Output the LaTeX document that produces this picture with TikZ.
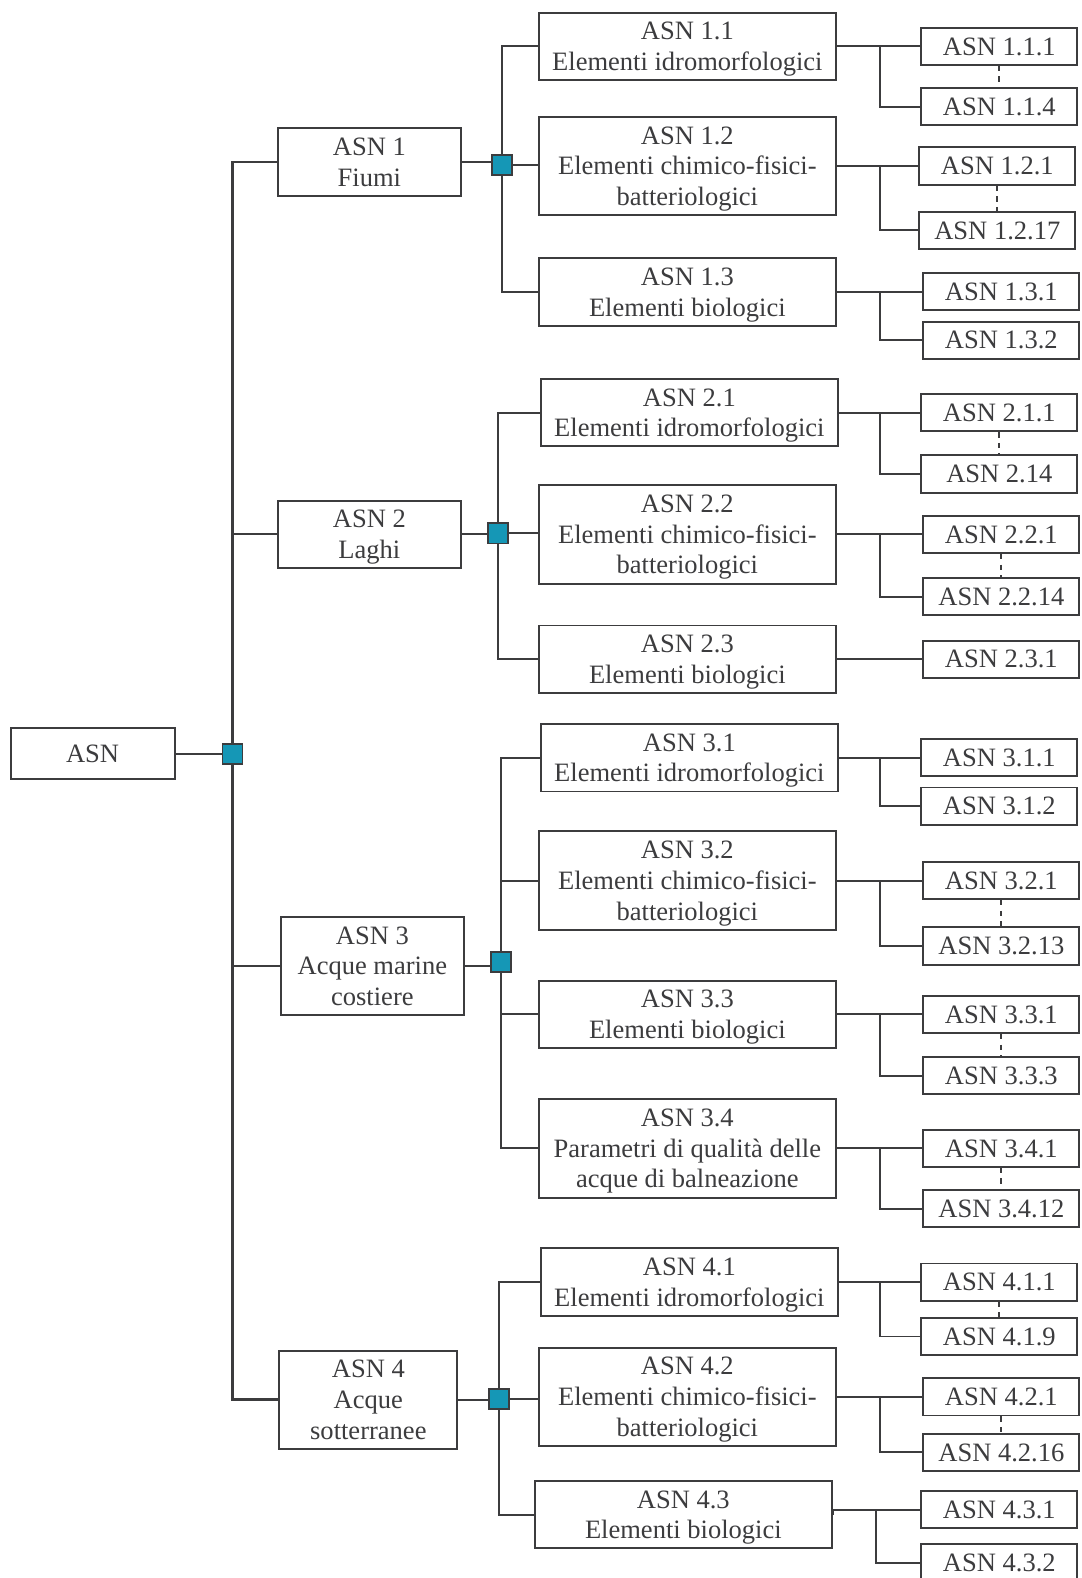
\documentclass[tikz,border=0pt]{standalone}
\usepackage{fontspec}
\setmainfont{Liberation Serif}
\definecolor{ink}{HTML}{3C3C3E}
\definecolor{hubfill}{HTML}{1597B6}

\begin{document}
\begin{tikzpicture}[x=0.02cm, y=-0.02cm,
    box/.style={draw=ink, line width=1.1pt, fill=white, text=ink,
                align=center, inner sep=0pt, text depth=0pt,
                font=\fontsize{15}{17.4}\selectfont},
    rootbox/.style={box, minimum width=3.26cm, minimum height=1.02cm},
    grp/.style={box, minimum width=3.64cm, minimum height=1.34cm},
    sub/.style={box, minimum width=5.9cm, minimum height=1.34cm},
    leaf/.style={box, minimum width=3.1cm, minimum height=0.74cm},
    hub/.style={draw=ink, line width=1pt, fill=hubfill, minimum size=0.4cm,
                inner sep=0pt},
    link/.style={draw=ink, line width=1.1pt},
    gap/.style={draw=ink, line width=1pt, dash pattern=on 3pt off 3pt},
]
    \useasboundingbox (0,0) rectangle (1075,1568);

    % root and first level
    \node[rootbox] (asn) at (92,749) {ASN};
    \node[grp] (asn1) at (367,161) {ASN 1\\Fiumi};
    \node[grp] (asn2) at (367,531) {ASN 2\\Laghi};
    \node[grp,minimum height=1.96cm] (asn3) at (370,960) {ASN 3\\Acque marine\\costiere};
    \node[grp,minimum height=1.96cm,minimum width=3.54cm] (asn4) at (366,1391) {ASN 4\\Acque\\sotterranee};

    % second level
    \node[sub] (a11) at (683,46) {ASN 1.1\\Elementi idromorfologici};
    \node[sub,minimum height=1.96cm] (a12) at (683,165) {ASN 1.2\\Elementi chimico-fisici-\\batteriologici};
    \node[sub] (a13) at (683,290) {ASN 1.3\\Elementi biologici};
    \node[sub] (a21) at (685,410) {ASN 2.1\\Elementi idromorfologici};
    \node[sub,minimum height=1.96cm] (a22) at (683,531) {ASN 2.2\\Elementi chimico-fisici-\\batteriologici};
    \node[sub] (a23) at (683,655) {ASN 2.3\\Elementi biologici};
    \node[sub] (a31) at (685,753) {ASN 3.1\\Elementi idromorfologici};
    \node[sub,minimum height=1.96cm] (a32) at (683,875) {ASN 3.2\\Elementi chimico-fisici-\\batteriologici};
    \node[sub] (a33) at (683,1008) {ASN 3.3\\Elementi biologici};
    \node[sub,minimum height=1.96cm] (a34) at (683,1141) {ASN 3.4\\Parametri di qualità delle\\acque di balneazione};
    \node[sub] (a41) at (685,1274) {ASN 4.1\\Elementi idromorfologici};
    \node[sub,minimum height=1.96cm] (a42) at (683,1388) {ASN 4.2\\Elementi chimico-fisici-\\batteriologici};
    \node[sub] (a43) at (679,1505) {ASN 4.3\\Elementi biologici};

    % leaves
    \node[leaf] (l111) at (993,46) {ASN 1.1.1};
    \node[leaf] (l114) at (993,106) {ASN 1.1.4};
    \node[leaf] (l121) at (991,165) {ASN 1.2.1};
    \node[leaf] (l1217) at (991,229) {ASN 1.2.17};
    \node[leaf] (l131) at (995,290) {ASN 1.3.1};
    \node[leaf] (l132) at (995,338) {ASN 1.3.2};
    \node[leaf] (l211) at (993,410) {ASN 2.1.1};
    \node[leaf] (l214) at (993,471) {ASN 2.14};
    \node[leaf] (l221) at (995,531) {ASN 2.2.1};
    \node[leaf] (l2214) at (995,593) {ASN 2.2.14};
    \node[leaf] (l231) at (995,655) {ASN 2.3.1};
    \node[leaf] (l311) at (993,753) {ASN 3.1.1};
    \node[leaf] (l312) at (993,801) {ASN 3.1.2};
    \node[leaf] (l321) at (995,875) {ASN 3.2.1};
    \node[leaf] (l3213) at (995,940) {ASN 3.2.13};
    \node[leaf] (l331) at (995,1008) {ASN 3.3.1};
    \node[leaf] (l333) at (995,1069) {ASN 3.3.3};
    \node[leaf] (l341) at (995,1141) {ASN 3.4.1};
    \node[leaf] (l3412) at (995,1201) {ASN 3.4.12};
    \node[leaf] (l411) at (993,1274) {ASN 4.1.1};
    \node[leaf] (l419) at (993,1328) {ASN 4.1.9};
    \node[leaf] (l421) at (995,1388) {ASN 4.2.1};
    \node[leaf] (l4216) at (995,1443) {ASN 4.2.16};
    \node[leaf] (l431) at (993,1500) {ASN 4.3.1};
    \node[leaf] (l432) at (993,1553) {ASN 4.3.2};

    % hub points
    \coordinate (j0) at (231,749);
    \coordinate (j1) at (499,164);
    \coordinate (j2) at (495,530);
    \coordinate (j3) at (498,956);
    \coordinate (j4) at (496,1390);

    % elbows towards the leaves
    \coordinate (k11) at (874,46);
    \coordinate (k12) at (874,165);
    \coordinate (k13) at (874,290);
    \coordinate (k21) at (874,410);
    \coordinate (k22) at (874,531);
    \coordinate (k31) at (874,753);
    \coordinate (k32) at (874,875);
    \coordinate (k33) at (874,1008);
    \coordinate (k34) at (874,1141);
    \coordinate (k41) at (874,1274);
    \coordinate (k42) at (874,1388);
    \coordinate (k43) at (870,1500);

    % root to first level
    \draw[link] (asn.east) -- (j0);
    \draw[link, line width=1.6pt] (j0) |- (asn1.west);
    \draw[link, line width=1.6pt] (j0) |- (asn4.west);
    \draw[link] (j0 |- asn2.west) -- (asn2.west);
    \draw[link] (j0 |- asn3.west) -- (asn3.west);

    % first level to second level
    \draw[link] (asn1.east) -- (asn1.east -| j1);
    \draw[link] (j1) |- (a11.west);
    \draw[link] (j1) |- (a13.west);
    \draw[link] (j1) -- (j1 -| a12.west);
    \draw[link] (asn2.east) -- (asn2.east -| j2);
    \draw[link] (j2) |- (a21.west);
    \draw[link] (j2) |- (a23.west);
    \draw[link] (j2) -- (j2 -| a22.west);
    \draw[link] (asn3.east) -- (asn3.east -| j3);
    \draw[link] (j3) |- (a31.west);
    \draw[link] (j3) |- (a34.west);
    \draw[link] (j3 |- a32.west) -- (a32.west);
    \draw[link] (j3 |- a33.west) -- (a33.west);
    \draw[link] (asn4.east) -- (asn4.east -| j4);
    \draw[link] (j4) |- (a41.west);
    \draw[link] (j4) |- (a43.west);
    \draw[link] (j4) -- (j4 -| a42.west);

    % second level to leaves
    \draw[link] (a11.east) -- (l111.west);
    \draw[link] (k11) |- (l114.west);
    \draw[link] (a12.east) -- (l121.west);
    \draw[link] (k12) |- (l1217.west);
    \draw[link] (a13.east) -- (l131.west);
    \draw[link] (k13) |- (l132.west);
    \draw[link] (a21.east) -- (l211.west);
    \draw[link] (k21) |- (l214.west);
    \draw[link] (a22.east) -- (l221.west);
    \draw[link] (k22) |- (l2214.west);
    \draw[link] (a23.east) -- (l231.west);
    \draw[link] (a31.east) -- (l311.west);
    \draw[link] (k31) |- (l312.west);
    \draw[link] (a32.east) -- (l321.west);
    \draw[link] (k32) |- (l3213.west);
    \draw[link] (a33.east) -- (l331.west);
    \draw[link] (k33) |- (l333.west);
    \draw[link] (a34.east) -- (l341.west);
    \draw[link] (k34) |- (l3412.west);
    \draw[link] (a41.east) -- (l411.west);
    \draw[link] (k41) |- (l419.west);
    \draw[link] (a42.east) -- (l421.west);
    \draw[link] (k42) |- (l4216.west);
    \draw[link] (a43.east) -- (a43.east |- k43) -- (l431.west);
    \draw[link] (k43) |- (l432.west);

    % ranges between leaves
    \draw[gap] (l111.south) -- (l114.north);
    \draw[gap] (l121.south) -- (l1217.north);
    \draw[gap] (l211.south) -- (l214.north);
    \draw[gap] (l221.south) -- (l2214.north);
    \draw[gap] (l321.south) -- (l3213.north);
    \draw[gap] (l331.south) -- (l333.north);
    \draw[gap] (l341.south) -- (l3412.north);
    \draw[gap] (l411.south) -- (l419.north);
    \draw[gap] (l421.south) -- (l4216.north);

    % hub squares on top
    \node[hub] (h0) at (j0) {};
    \node[hub] (h1) at (j1) {};
    \node[hub] (h2) at (j2) {};
    \node[hub] (h3) at (j3) {};
    \node[hub] (h4) at (j4) {};

\end{tikzpicture}
\end{document}
